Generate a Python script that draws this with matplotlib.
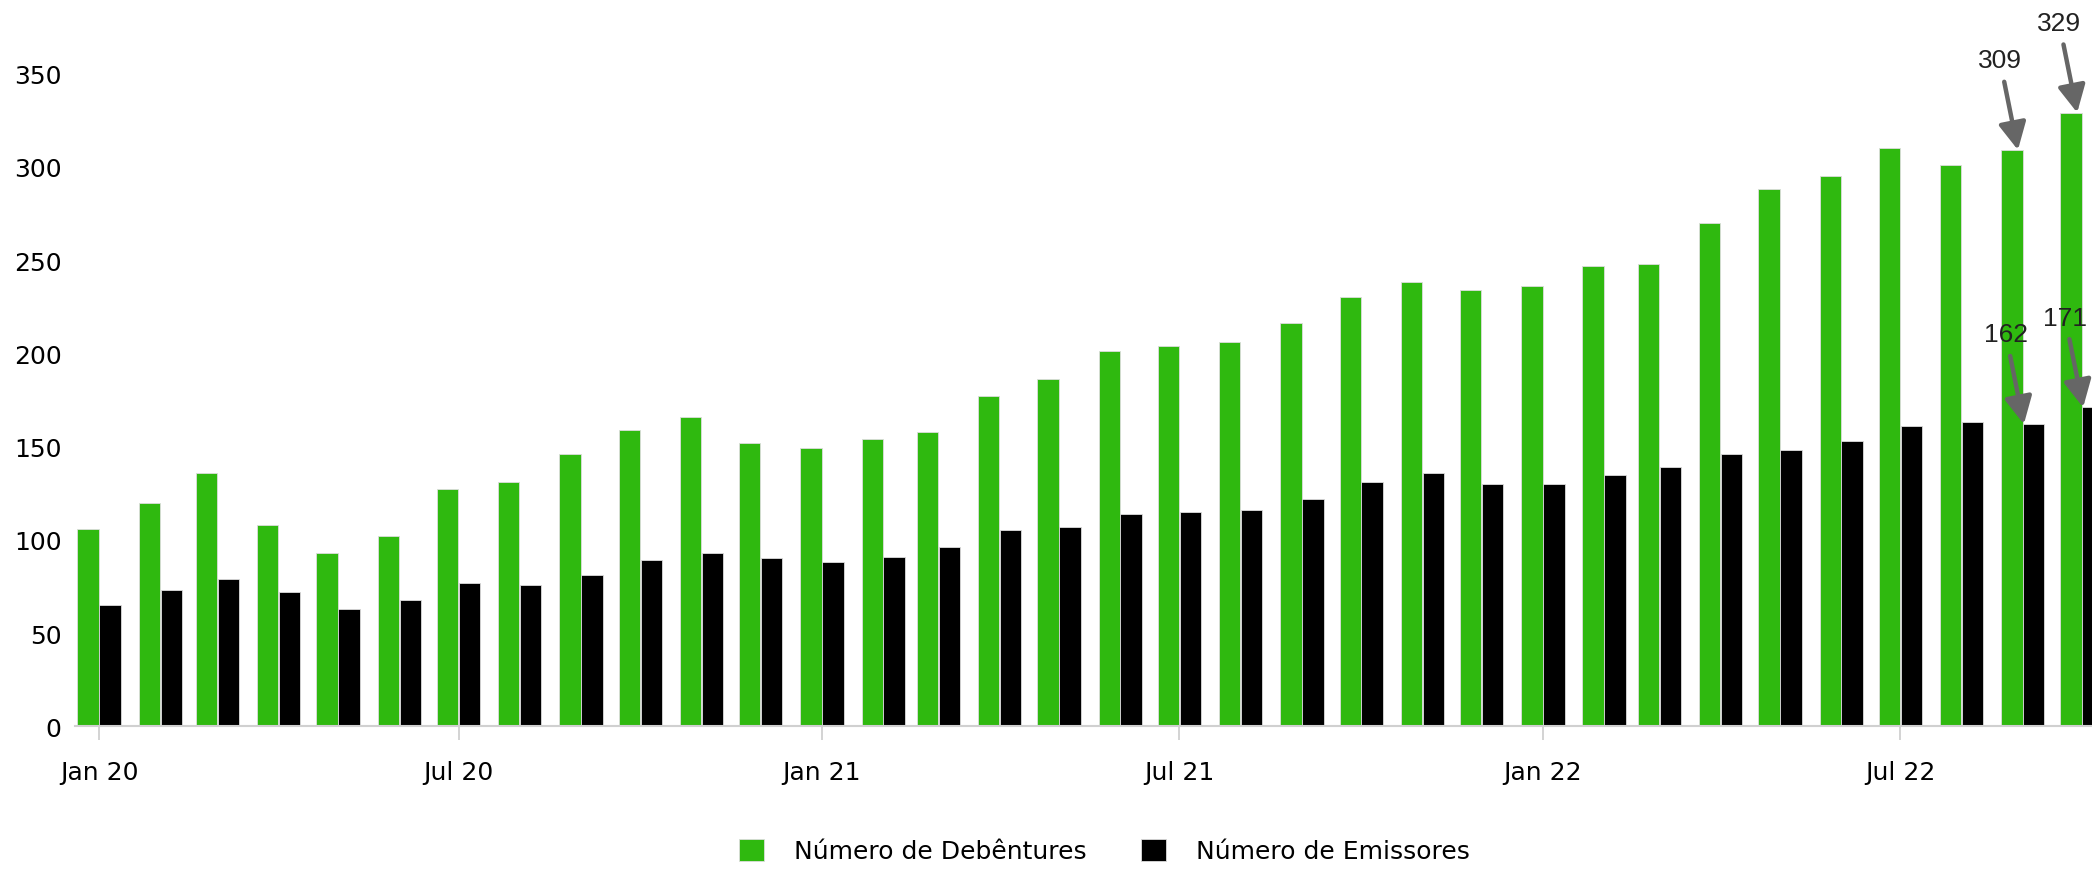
import matplotlib.pyplot as plt
import matplotlib.dates as mdates
import pandas as pd

months = pd.date_range("2020-01-01", periods=34, freq="MS")
debentures = [106, 120, 136, 108, 93, 102, 127, 131, 146, 159, 166, 152,
              149, 154, 158, 177, 186, 201, 204, 206, 216, 230, 238, 234,
              236, 247, 248, 270, 288, 295, 310, 301, 309, 329]
emissores = [65, 73, 79, 72, 63, 68, 77, 76, 81, 89, 93, 90,
             88, 91, 96, 105, 107, 114, 115, 116, 122, 131, 136, 130,
             130, 135, 139, 146, 148, 153, 161, 163, 162, 171]
tick_months = pd.date_range("2020-01-01", "2022-07-01", freq="6MS")

green = "#2fb90f"
width = 10.8  # days

plt.rcParams["font.family"] = ["DejaVu Sans"]

fig = plt.figure(figsize=(20.92, 8.87), dpi=100)
ax = fig.add_axes([0.036, 0.180, 0.964, 0.736])

x = mdates.date2num(months)
ax.bar(x - width / 2 - 0.15, debentures, width, color=green,
       edgecolor="#dddddd", linewidth=0.6, label="Número de Debêntures")
ax.bar(x + width / 2 + 0.15, emissores, width, color="black",
       edgecolor="#dddddd", linewidth=0.6, label="Número de Emissores")

ax.set_ylim(0, 350)
ax.set_xlim(mdates.date2num(pd.Timestamp("2019-12-20")),
            mdates.date2num(pd.Timestamp("2022-10-06")))
ax.set_yticks(range(0, 351, 50))
ax.set_xticks(mdates.date2num(tick_months))
ax.xaxis.set_major_formatter(mdates.DateFormatter("%b %y"))

for s in ["top", "right", "left"]:
    ax.spines[s].set_visible(False)
ax.spines["bottom"].set_color("#d0d0d0")
ax.spines["bottom"].set_linewidth(1.5)
ax.tick_params(axis="y", length=0, labelsize=18, pad=10)
ax.tick_params(axis="x", length=10, width=1.2, color="#cccccc",
               labelsize=18, pad=14)

# annotations for the last two months
arrow = dict(arrowstyle="-|>,head_length=0.75,head_width=0.38",
             color="#666666", lw=3.2, mutation_scale=22,
             shrinkA=5, shrinkB=0)
for i, vals, dx in [(32, debentures, -2.5), (33, debentures, -2.5),
                    (32, emissores, 0.5), (33, emissores, 0.5)]:
    ax.annotate(str(vals[i]), xy=(x[i] + dx, vals[i]),
                xytext=(-13, 56), textcoords="offset points",
                ha="center", va="bottom", fontsize=19,
                family="Liberation Sans", color="#222222",
                arrowprops=arrow, annotation_clip=False)

fig.legend(loc="lower center", bbox_to_anchor=(0.528, 0.0), ncol=2,
           frameon=False, fontsize=18, handlelength=1.0, handleheight=1.0,
           columnspacing=2.2, handletextpad=1.2)

plt.savefig("out.png", dpi=100)
